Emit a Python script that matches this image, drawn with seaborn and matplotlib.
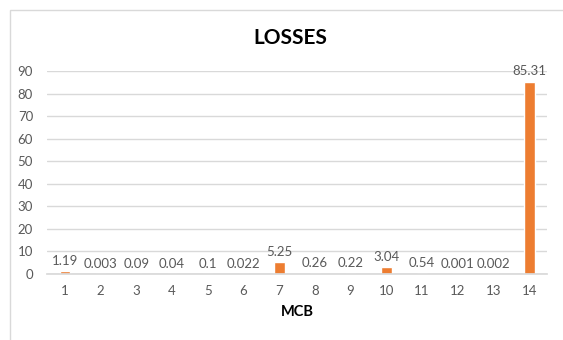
import matplotlib
matplotlib.use("Agg")
import matplotlib.pyplot as plt
import seaborn as sns
import pandas as pd
from matplotlib.patches import Rectangle

mcb = ["1", "2", "3", "4", "5", "6", "7", "8", "9", "10", "11", "12", "13", "14"]
losses = [1.19, 0.003, 0.09, 0.04, 0.1, 0.022, 5.25, 0.26, 0.22, 3.04, 0.54, 0.001, 0.002, 85.31]
labels = ["1.19", "0.003", "0.09", "0.04", "0.1", "0.022", "5.25", "0.26", "0.22", "3.04", "0.54", "0.001", "0.002", "85.31"]
yticks = [0, 10, 20, 30, 40, 50, 60, 70, 80, 90]

sns.set_theme(style="white")
plt.rcParams['font.family'] = ['Lato', 'DejaVu Sans']

df = pd.DataFrame({"MCB": mcb, "LOSSES": losses})

fig = plt.figure(figsize=(5.63, 3.40), dpi=100)
fig.patches.append(Rectangle((10/563, -0.1), 1.2, (330)/340 + 0.1, transform=fig.transFigure,
                             fill=False, edgecolor="#D9D9D9", linewidth=1))
ax = fig.add_axes([47/563, (340-274)/340, (547-47)/563, (274-71)/340])

sns.barplot(data=df, x="MCB", y="LOSSES", color="#ED7D31", width=0.3, ax=ax,
            saturation=1, order=mcb)

ax.set_ylim(0, 90)
ax.set_yticks(yticks)
ax.yaxis.grid(True, color="#D9D9D9", linewidth=1)
ax.set_axisbelow(True)
for s in ["left", "right", "top"]:
    ax.spines[s].set_visible(False)
ax.spines["bottom"].set_color("#D9D9D9")
ax.tick_params(axis="both", length=0, colors="#595959", labelsize=9.5, pad=8)
ax.tick_params(axis="y", pad=10)

cont = ax.containers[0]
texts = ax.bar_label(cont, labels=labels, padding=3, color="#595959", fontsize=9.5)
for t in texts:
    t.set_clip_on(False)

ax.set_xlabel("MCB", fontsize=10.5, fontweight="bold", color="black", labelpad=6)
ax.set_ylabel("")
fig.text(290/563, 1 - 38/340, "LOSSES", ha="center", va="center", fontsize=15,
         fontweight="bold", color="black")

fig.savefig("out.png", dpi=100, facecolor="white")
